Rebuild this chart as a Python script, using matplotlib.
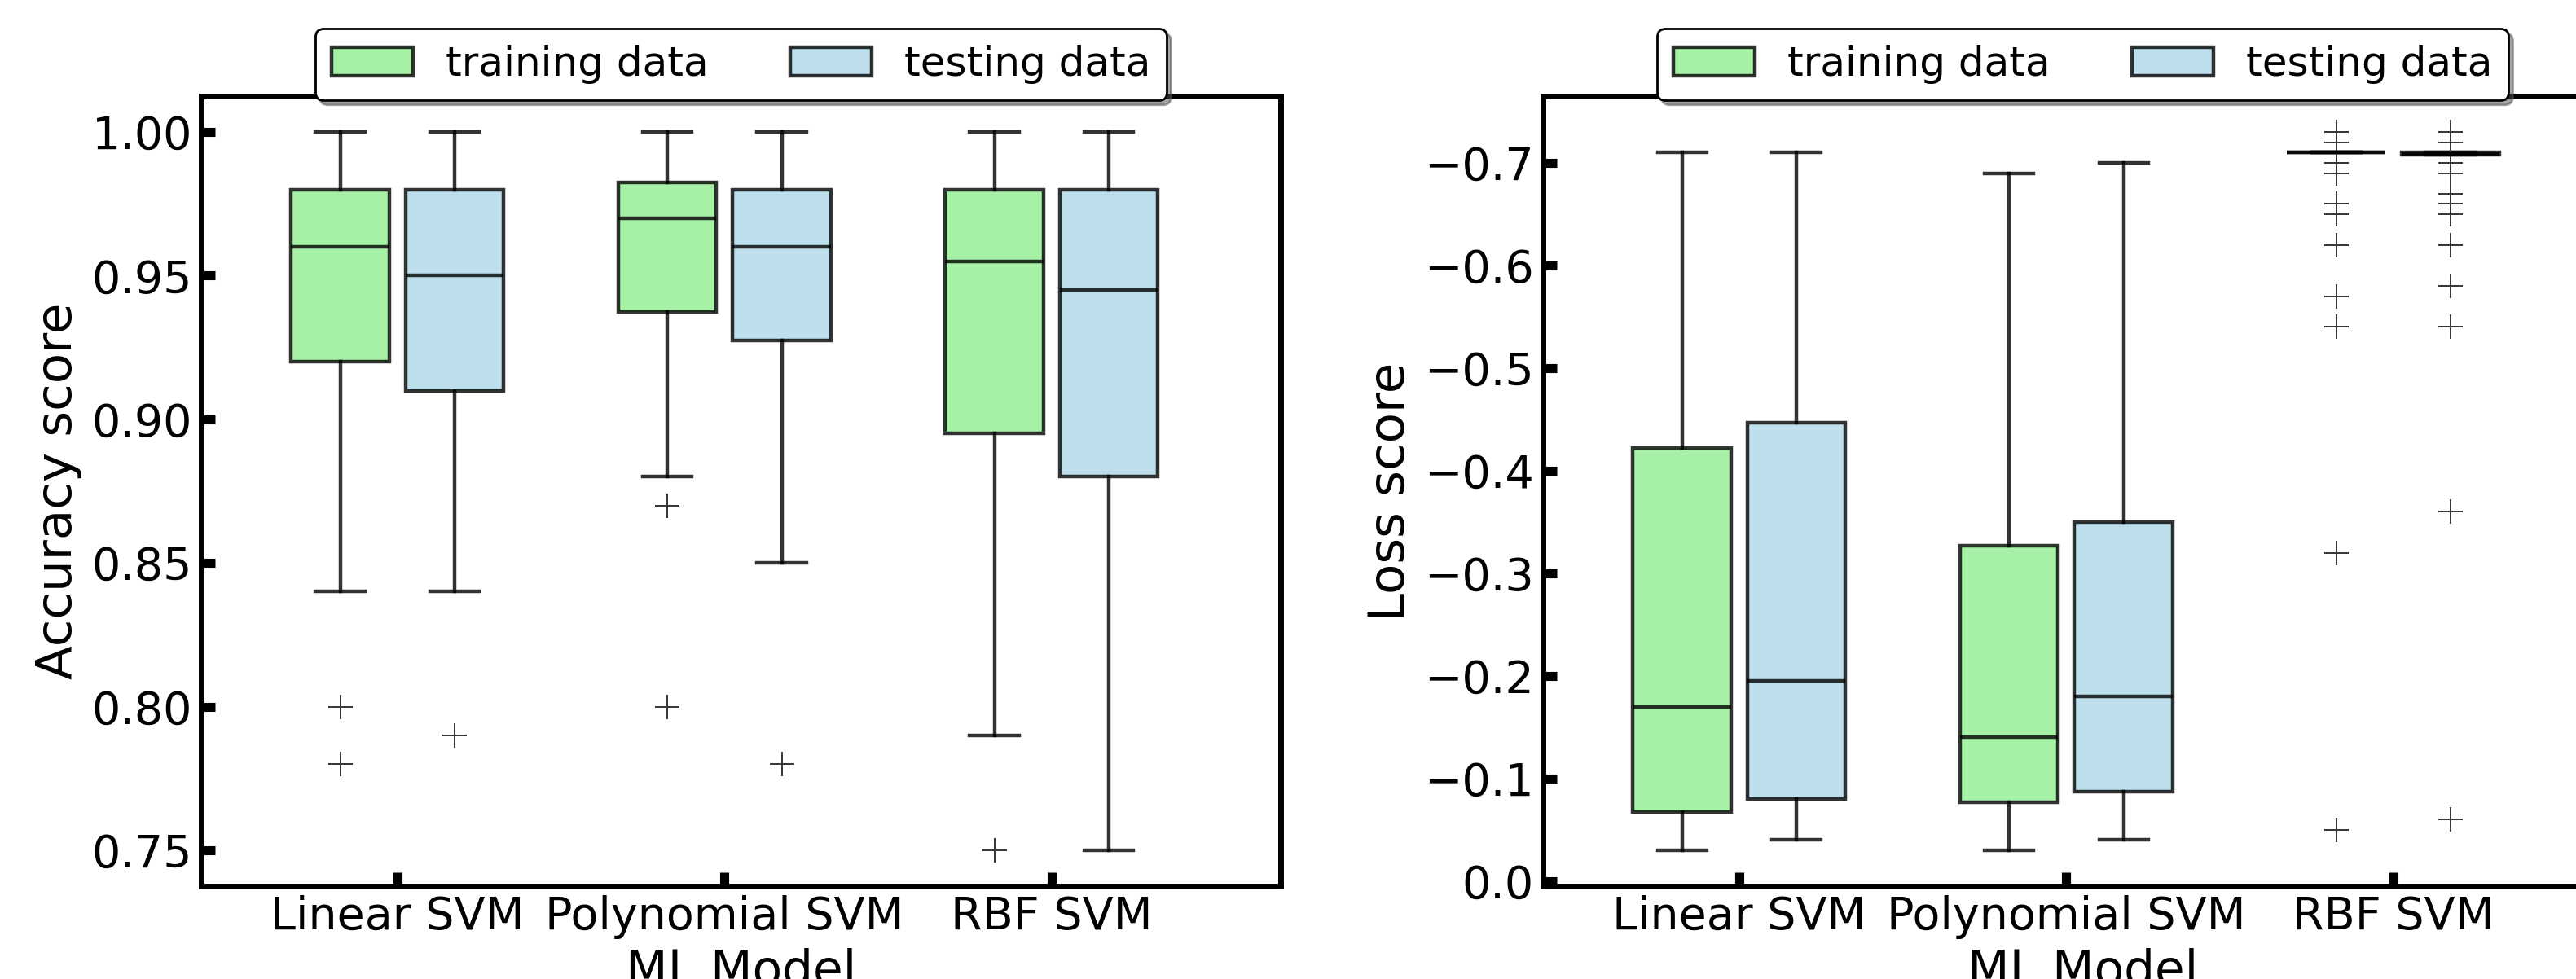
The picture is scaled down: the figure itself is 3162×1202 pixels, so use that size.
import matplotlib
matplotlib.use("Agg")
import matplotlib.pyplot as plt
from matplotlib.patches import Patch

plt.rcParams['font.family'] = ['DejaVu Sans']

models = ["Linear SVM", "Polynomial SVM", "RBF SVM"]
series_names = ["training data", "testing data"]
series_colors = ["lightgreen", "lightblue"]

# accuracy score
acc_train_whislo = [0.84, 0.88, 0.79]
acc_train_q1 = [0.92, 0.9375, 0.895]
acc_train_med = [0.96, 0.97, 0.955]
acc_train_q3 = [0.98, 0.9825, 0.98]
acc_train_whishi = [1.0, 1.0, 1.0]
acc_train_fliers = [[0.80, 0.78], [0.87, 0.80], [0.75]]

acc_test_whislo = [0.84, 0.85, 0.75]
acc_test_q1 = [0.91, 0.9275, 0.88]
acc_test_med = [0.95, 0.96, 0.945]
acc_test_q3 = [0.98, 0.98, 0.98]
acc_test_whishi = [1.0, 1.0, 1.0]
acc_test_fliers = [[0.79], [0.78], []]

# loss score (negative log loss)
loss_train_whislo = [-0.71, -0.69, -0.71]
loss_train_q1 = [-0.422, -0.327, -0.71]
loss_train_med = [-0.17, -0.14, -0.71]
loss_train_q3 = [-0.0675, -0.077, -0.71]
loss_train_whishi = [-0.03, -0.03, -0.71]
loss_train_fliers = [[], [], [-0.73, -0.72, -0.70, -0.69, -0.66, -0.65,
                              -0.62, -0.57, -0.54, -0.32, -0.05]]

loss_test_whislo = [-0.71, -0.70, -0.7105]
loss_test_q1 = [-0.447, -0.35, -0.7105]
loss_test_med = [-0.195, -0.18, -0.709]
loss_test_q3 = [-0.08, -0.087, -0.708]
loss_test_whishi = [-0.04, -0.04, -0.708]
loss_test_fliers = [[], [], [-0.73, -0.72, -0.70, -0.69, -0.67, -0.66, -0.65,
                             -0.62, -0.58, -0.54, -0.36, -0.06]]


def make_stats(whislo, q1, med, q3, whishi, fliers):
    stats = []
    for i in range(len(med)):
        stats.append({'whislo': whislo[i], 'q1': q1[i], 'med': med[i],
                      'q3': q3[i], 'whishi': whishi[i], 'fliers': fliers[i]})
    return stats


def draw_boxes(ax, stats, offset, color):
    pos = [i + offset for i in range(len(stats))]
    line = dict(color='black', alpha=0.8, linewidth=1.6)
    ax.bxp(stats, positions=pos, widths=0.3, patch_artist=True,
           boxprops=dict(facecolor=color, edgecolor='black', alpha=0.8, linewidth=1.6),
           medianprops=line, whiskerprops=line, capprops=line,
           capwidths=0.15, manage_ticks=False,
           flierprops=dict(marker='+', markersize=11, markeredgewidth=0.7,
                           markeredgecolor='#333333', linestyle='none'))


def style_axis(ax, ylabel):
    ax.set_xlim(-0.6, 2.7)
    ax.set_xticks(range(len(models)))
    ax.set_xticklabels(models, fontsize=20)
    ax.set_xlabel("ML Model", fontsize=21.5)
    ax.set_ylabel(ylabel, fontsize=22)
    ax.tick_params(axis='both', direction='in', length=6, width=4,
                   labelsize=20, pad=4)
    for sp in ax.spines.values():
        sp.set_linewidth(2.5)
    handles = [Patch(facecolor=c, edgecolor='black', alpha=0.8, linewidth=1.6)
               for c in series_colors]
    ax.legend(handles, series_names, loc='center', bbox_to_anchor=(0.5, 1.04),
              ncol=2, fontsize=18, shadow=True, fancybox=True,
              framealpha=1, edgecolor='black')


fig = plt.figure(figsize=(15.81, 6.01), dpi=200)
ax1 = fig.add_axes([0.0781, 0.0948, 0.419, 0.807])
ax2 = fig.add_axes([0.599, 0.0948, 0.419, 0.807])

draw_boxes(ax1, make_stats(acc_train_whislo, acc_train_q1, acc_train_med,
                           acc_train_q3, acc_train_whishi, acc_train_fliers),
           -0.175, series_colors[0])
draw_boxes(ax1, make_stats(acc_test_whislo, acc_test_q1, acc_test_med,
                           acc_test_q3, acc_test_whishi, acc_test_fliers),
           0.175, series_colors[1])
style_axis(ax1, "Accuracy score")
ax1.set_yticks([0.75, 0.80, 0.85, 0.90, 0.95, 1.00])

draw_boxes(ax2, make_stats(loss_train_whislo, loss_train_q1, loss_train_med,
                           loss_train_q3, loss_train_whishi, loss_train_fliers),
           -0.175, series_colors[0])
draw_boxes(ax2, make_stats(loss_test_whislo, loss_test_q1, loss_test_med,
                           loss_test_q3, loss_test_whishi, loss_test_fliers),
           0.175, series_colors[1])
style_axis(ax2, "Loss score")
ax2.set_yticks([0.0, -0.1, -0.2, -0.3, -0.4, -0.5, -0.6, -0.7])
ax2.invert_yaxis()

fig.savefig("out.png", dpi=200)
